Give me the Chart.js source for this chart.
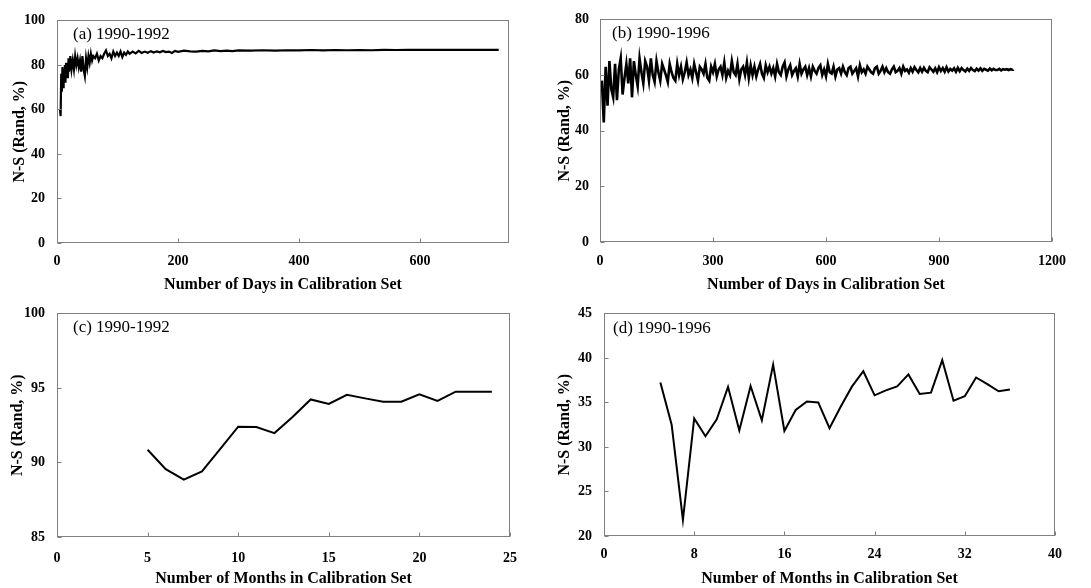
<!DOCTYPE html>
<html>
<head>
<meta charset="utf-8">
<script src="https://cdn.jsdelivr.net/npm/chart.js@4/dist/chart.umd.min.js"></script>
<style>
  html, body { margin: 0; padding: 0; background: #fff; }
  #wrap { position: relative; width: 1091px; height: 588px; overflow: hidden; }
  #wrap canvas { position: absolute; }
</style>
</head>
<body>
<div id="wrap">
  <canvas id="chartA"></canvas>
  <canvas id="chartB"></canvas>
  <canvas id="chartC"></canvas>
  <canvas id="chartD"></canvas>
</div>
<script>
// ── (a) 1990-1992: N-S vs number of days ─────────────────────
const daysA = [
  5, 6, 7, 8, 9, 10, 11, 12, 13, 14,
  15, 16, 17, 18, 19, 20, 22, 24, 26, 28,
  30, 32, 34, 36, 38, 40, 42, 44, 46, 48,
  50, 52, 54, 56, 58, 60, 63, 66, 69, 72,
  75, 78, 81, 84, 87, 90, 93, 96, 99, 102,
  105, 108, 111, 114, 117, 120, 125, 130, 135, 140,
  145, 150, 155, 160, 165, 170, 175, 180, 185, 190,
  195, 200, 210, 220, 230, 240, 250, 260, 270, 280,
  290, 300, 320, 340, 360, 380, 400, 420, 440, 460,
  480, 500, 520, 540, 560, 580, 600, 630, 660, 690,
  730,
];
const nsA = [
  60, 57, 76, 68, 79, 70, 78, 73, 80, 72,
  81, 76, 79, 74, 83, 77, 84, 78, 82, 78,
  84, 80, 83, 79, 82, 77, 84, 78, 75, 83,
  79, 84, 81, 85, 82, 84, 83, 85, 82, 84,
  83, 85, 86.5, 84, 85, 83, 86, 84, 85.5, 84,
  86, 83.5, 85.5, 84.5, 86, 85, 86, 85.2, 86.3, 85.4,
  86, 85.5, 86.2, 85.6, 86.1, 85.7, 86.3, 85.8, 86, 85.4,
  86.3, 85.9, 86.4, 86.1, 86, 86.3, 86.1, 86.5, 86.2, 86.4,
  86.2, 86.5, 86.4, 86.6, 86.4, 86.6, 86.5, 86.7, 86.5, 86.7,
  86.6, 86.7, 86.6, 86.8, 86.7, 86.8, 86.8, 86.8, 86.8, 86.8,
  86.8,
];

// ── (b) 1990-1996: N-S vs number of days ─────────────────────
const daysB = [
  5, 10, 15, 20, 25, 30, 35, 40, 45, 50,
  55, 60, 65, 70, 75, 80, 85, 90, 95, 100,
  105, 110, 115, 120, 125, 130, 135, 140, 145, 150,
  155, 160, 165, 170, 175, 180, 185, 190, 195, 200,
  205, 210, 215, 220, 225, 230, 235, 240, 245, 250,
  255, 260, 265, 270, 275, 280, 285, 290, 295, 300,
  305, 310, 315, 320, 325, 330, 335, 340, 345, 350,
  355, 360, 365, 370, 375, 380, 385, 390, 395, 400,
  405, 410, 415, 420, 425, 430, 435, 440, 445, 450,
  455, 460, 465, 470, 475, 480, 485, 490, 495, 500,
  505, 510, 515, 520, 525, 530, 535, 540, 545, 550,
  555, 560, 565, 570, 575, 580, 585, 590, 595, 600,
  605, 610, 615, 620, 625, 630, 635, 640, 645, 650,
  655, 660, 665, 670, 675, 680, 685, 690, 695, 700,
  705, 710, 715, 720, 725, 730, 735, 740, 745, 750,
  755, 760, 765, 770, 775, 780, 785, 790, 795, 800,
  805, 810, 815, 820, 825, 830, 835, 840, 845, 850,
  855, 860, 865, 870, 875, 880, 885, 890, 895, 900,
  905, 910, 915, 920, 925, 930, 935, 940, 945, 950,
  955, 960, 965, 970, 975, 980, 985, 990, 995, 1000,
  1005, 1010, 1015, 1020, 1025, 1030, 1035, 1040, 1045, 1050,
  1055, 1060, 1065, 1070, 1075, 1080, 1085, 1090, 1095, 1096,
];
const nsB = [
  58, 43, 63, 49, 65, 55, 52, 64, 51, 62,
  66, 53, 59, 64, 57, 66, 52, 65, 60, 56,
  66, 61, 57, 65, 63, 58, 66, 60, 57.5, 65,
  61, 58, 64, 62, 60, 57.5, 64, 61, 59, 58,
  64, 60, 63, 58.5, 61, 64.5, 60, 62, 59, 64,
  61, 58, 63, 62, 60.5, 64, 59, 58, 63, 61,
  64, 59.5, 62, 63, 60, 64.5, 59, 61.5, 60, 65,
  61, 60, 64, 58.5, 62, 63, 60, 64.5, 59, 63.5,
  60, 63, 59.5, 62, 64, 60.5, 59, 63.5, 61, 63,
  60.5, 62.5, 59.5, 64, 61, 60, 63, 64.5, 59.5, 62,
  63.5, 60, 61.5, 62.5, 59.5, 64, 60.5, 62, 63, 60,
  62.5, 59.5, 63, 61.5, 60.5, 62.5, 63.5, 60, 62, 59.5,
  64, 61, 60.5, 63, 59.5, 62, 62.5, 60.5, 63, 61,
  60, 62.5, 63, 60.5, 61.5, 62.5, 59.5, 63.5, 61, 62,
  60.5, 63, 62, 61, 60.5, 62.5, 63, 60.5, 61.5, 63,
  61, 62.5, 61, 60.5, 62, 63, 61, 61.5, 62.5, 60.5,
  63, 61.5, 62, 60.8, 62.5, 61.2, 62.8, 61.8, 61, 62.5,
  61.2, 62.6, 61.5, 61, 62.8, 62, 61.2, 62.4, 61, 62.8,
  61.5, 62.5, 61.2, 62.8, 61.3, 62.2, 61.6, 62.4, 61.2, 62.6,
  61.4, 62.5, 61.8, 61.3, 62.3, 61.5, 62.5, 61.8, 61.4, 62.3,
  61.6, 62.4, 61.5, 62.2, 61.9, 61.6, 62.3, 61.7, 62.2, 61.8,
  61.8, 62.2, 61.7, 62.1, 61.9, 62.1, 61.8, 62.1, 61.9, 62,
];

// ── (c) 1990-1992: N-S vs number of months ───────────────────
const monthsC = [5, 6, 7, 8, 9, 10, 11, 12, 13, 14, 15, 16, 17, 18, 19, 20, 21, 22, 23, 24];
const nsC = [90.85, 89.55, 88.85, 89.4, 90.9, 92.4, 92.38, 91.97, 93.05, 94.23,
             93.93, 94.54, 94.3, 94.08, 94.08, 94.57, 94.13, 94.75, 94.75, 94.75];

// ── (d) 1990-1996: N-S vs number of months ───────────────────
const monthsD = [5, 6, 7, 8, 9, 10, 11, 12, 13, 14, 15, 16, 17, 18, 19, 20,
                 21, 22, 23, 24, 25, 26, 27, 28, 29, 30, 31, 32, 33, 34, 35, 36];
const nsD = [37.25, 32.5, 21.8, 33.2, 31.2, 33.1, 36.75, 31.85, 36.85, 33.0, 39.25, 31.8,
             34.15, 35.1, 35.0, 32.1, 34.55, 36.8, 38.5, 35.8, 36.35, 36.8, 38.15, 35.95,
             36.1, 39.75, 35.2, 35.7, 37.8, 37.05, 36.25, 36.45];

const FONT = "'Liberation Serif', 'Times New Roman', serif";
const INK = "#000";
const FRAME = "#808080";

// ── Plot box, inward tick marks and panel label ──────────────
const framePlugin = {
  id: "frame",
  afterDatasetsDraw(chart, args, opts) {
    const { ctx, chartArea: a, scales: { x, y } } = chart;
    const l = Math.round(a.left) + 0.5, t = Math.round(a.top) + 0.5;
    const r = Math.round(a.right) - 0.5, b = Math.round(a.bottom) - 0.5;
    ctx.save();
    ctx.strokeStyle = FRAME;
    ctx.lineWidth = 1;
    ctx.strokeRect(l, t, r - l, b - t);
    ctx.beginPath();
    x.ticks.forEach(tk => {
      const px = Math.round(x.getPixelForValue(tk.value)) + 0.5;
      ctx.moveTo(px, b); ctx.lineTo(px, b - 4);
    });
    y.ticks.forEach(tk => {
      const py = Math.round(y.getPixelForValue(tk.value)) + 0.5;
      ctx.moveTo(l, py); ctx.lineTo(l + 4, py);
    });
    ctx.stroke();
    ctx.fillStyle = INK;
    ctx.font = "17px " + FONT;
    ctx.textBaseline = "alphabetic";
    ctx.fillText(opts.label, a.left + opts.dx, a.top + opts.dy);
    ctx.restore();
  },
};

function makePanel(id, p) {
  const canvas = document.getElementById(id);
  canvas.width = p.w; canvas.height = p.h;
  canvas.style.left = p.left + "px"; canvas.style.top = p.top + "px";
  canvas.style.width = p.w + "px"; canvas.style.height = p.h + "px";

  return new Chart(canvas.getContext("2d"), {
    type: "line",
    data: {
      datasets: [{
        data: p.xs.map((v, i) => ({ x: v, y: p.ys[i] })),
        borderColor: INK,
        borderWidth: p.lw,
        pointRadius: 0,
        tension: 0,
        fill: false,
      }],
    },
    options: {
      responsive: false,
      animation: false,
      devicePixelRatio: 1,
      layout: { padding: { left: 0, top: p.padTop, right: p.padRight, bottom: 0 } },
      plugins: {
        legend: { display: false },
        tooltip: { enabled: false },
        frame: { label: p.label, dx: p.labelDx, dy: p.labelDy },
      },
      scales: {
        x: {
          type: "linear",
          min: p.xMin, max: p.xMax,
          grid: { display: false, drawTicks: false },
          border: { display: false },
          ticks: { stepSize: p.xStep, color: INK, padding: p.xPad, maxRotation: 0,
                   callback: v => String(v),
                   font: { family: FONT, size: 14, weight: "bold" } },
          afterBuildTicks: s => { s.ticks = s.ticks.filter(t => t.value % p.xStep === 0); },
          afterFit: s => { s.height = p.xh; },
          title: {
            display: true, text: p.xTitle, color: INK,
            font: { family: FONT, size: 16, weight: "bold", lineHeight: 1 },
            padding: { top: 0, bottom: p.xTitlePad },
          },
        },
        y: {
          min: p.yMin, max: p.yMax,
          grid: { display: false, drawTicks: false },
          border: { display: false },
          ticks: { stepSize: p.yStep, color: INK, padding: p.yPad,
                   callback: v => String(v),
                   font: { family: FONT, size: 14, weight: "bold" } },
          afterFit: s => { s.width = p.yw; },
          title: {
            display: true, text: "N-S (Rand, %)", color: INK,
            font: { family: FONT, size: 16, weight: "bold", lineHeight: 1 },
            padding: { top: p.yTitlePad, bottom: 0 },
          },
        },
      },
    },
    plugins: [framePlugin],
  });
}

const DAYS_TITLE = "Number of Days in Calibration Set";
const MONTHS_TITLE = "Number of Months in Calibration Set";

makePanel("chartA", {
  left: 0, top: 0, w: 545, h: 293, yw: 57, xh: 50, padTop: 16, padRight: 36,
  xs: daysA, ys: nsA, lw: 2.2, label: "(a) 1990-1992", labelDx: 16, labelDy: 19,
  xMin: 0, xMax: 747, xStep: 200, yMin: 0, yMax: 100, yStep: 20,
  xPad: 10, yPad: 12, xTitle: DAYS_TITLE, xTitlePad: 0, yTitlePad: 12,
});
makePanel("chartB", {
  left: 545, top: 0, w: 546, h: 293, yw: 55, xh: 51, padTop: 15, padRight: 39,
  xs: daysB, ys: nsB, lw: 2.6, label: "(b) 1990-1996", labelDx: 12, labelDy: 19,
  xMin: 0, xMax: 1200, xStep: 300, yMin: 0, yMax: 80, yStep: 20,
  xPad: 11, yPad: 11, xTitle: DAYS_TITLE, xTitlePad: 0, yTitlePad: 12,
});
makePanel("chartC", {
  left: 0, top: 293, w: 545, h: 295, yw: 57, xh: 51, padTop: 16, padRight: 35,
  xs: monthsC, ys: nsC, lw: 2, label: "(c) 1990-1992", labelDx: 16, labelDy: 19,
  xMin: 0, xMax: 25, xStep: 5, yMin: 85, yMax: 100, yStep: 5,
  xPad: 13, yPad: 12, xTitle: MONTHS_TITLE, xTitlePad: 1, yTitlePad: 10,
});
makePanel("chartD", {
  left: 545, top: 293, w: 546, h: 295, yw: 59, xh: 52, padTop: 16, padRight: 36,
  xs: monthsD, ys: nsD, lw: 2, label: "(d) 1990-1996", labelDx: 9, labelDy: 20,
  xMin: 0, xMax: 40, xStep: 8, yMin: 20, yMax: 45, yStep: 5,
  xPad: 10, yPad: 12, xTitle: MONTHS_TITLE, xTitlePad: 1, yTitlePad: 12,
});
</script>
</body>
</html>
